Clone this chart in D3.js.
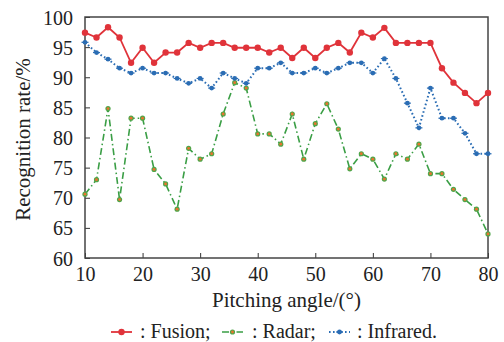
<!DOCTYPE html>
<html>
<head>
<meta charset="utf-8">
<script src="https://cdn.jsdelivr.net/npm/d3@7"></script>
<style>
  body { margin: 0; background: #fff; }
</style>
</head>
<body>
<div id="chart"></div>
<script>
// pitching angles, every 2 degrees
const angles = d3.range(10, 81, 2);
const fusion = [97.4, 96.6, 98.3, 96.6, 92.4, 94.9, 92.4, 94.1, 94.1, 95.7, 94.9, 95.7,
  95.7, 94.9, 94.9, 94.9, 94.1, 94.9, 93.2, 94.9, 93.2, 94.9, 95.7, 94.1,
  97.4, 96.6, 98.2, 95.7, 95.7, 95.7, 95.7, 91.5, 89.1, 87.4, 85.7, 87.4];
const radar = [70.6, 73.0, 84.8, 69.7, 83.2, 83.2, 74.7, 72.3, 68.1, 78.2, 76.4, 77.3,
  83.9, 89.1, 88.2, 80.6, 80.6, 78.9, 83.9, 76.4, 82.3, 85.6, 81.4, 74.8,
  77.3, 76.4, 73.1, 77.3, 76.4, 78.9, 74.0, 74.0, 71.4, 69.7, 68.1, 64.0];
const infrared = [95.8, 94.1, 93.0, 91.5, 90.7, 91.5, 90.7, 90.7, 89.8, 89.0, 89.8, 88.2,
  90.7, 89.8, 89.0, 91.5, 91.5, 92.4, 90.7, 90.7, 91.5, 90.7, 91.5, 92.4,
  92.4, 90.7, 93.1, 89.8, 85.7, 81.6, 88.2, 83.2, 83.2, 80.7, 77.3, 77.3];
const xTicks = [10, 20, 30, 40, 50, 60, 70, 80];
const yTicks = [60, 65, 70, 75, 80, 85, 90, 95, 100];

const width = 504, height = 342;
const margin = {top: 17, right: 16, bottom: 84, left: 85};
const FONT = '"Liberation Serif", "Times New Roman", serif';

const svg = d3.select('#chart').append('svg')
  .attr('width', width)
  .attr('height', height)
  .style('font-family', FONT);

const xScale = d3.scaleLinear().domain([10, 80]).range([margin.left, width - margin.right]);
const yScale = d3.scaleLinear().domain([60, 100]).range([height - margin.bottom, margin.top]);

// axes, ticks pointing inward
const xAxis = svg.append('g')
  .attr('transform', `translate(0,${yScale(60)})`)
  .call(d3.axisBottom(xScale).tickValues(xTicks).tickSizeInner(-5).tickSizeOuter(0).tickPadding(9));
const yAxis = svg.append('g')
  .attr('transform', `translate(${xScale(10)},0)`)
  .call(d3.axisLeft(yScale).tickValues(yTicks).tickSizeInner(-5).tickSizeOuter(0).tickPadding(12));

[xAxis, yAxis].forEach(ax => {
  ax.attr('font-family', FONT).attr('font-size', 20);
  ax.selectAll('.domain').remove();
  ax.selectAll('line').attr('stroke', '#333').attr('stroke-width', 1);
  ax.selectAll('text').attr('fill', '#222');
});
yAxis.selectAll('text').attr('dy', '0.35em');

// frame
svg.append('rect')
  .attr('x', xScale(10))
  .attr('y', yScale(100))
  .attr('width', xScale(80) - xScale(10))
  .attr('height', yScale(60) - yScale(100))
  .attr('fill', 'none')
  .attr('stroke', '#444')
  .attr('stroke-width', 1.5);

const series = [
  {name: 'Fusion', values: fusion, color: '#e0333a', dash: null, width: 1.8},
  {name: 'Radar', values: radar, color: '#3a9e45', dash: '7,3,1.5,3', width: 1.6},
  {name: 'Infrared', values: infrared, color: '#2b6db4', dash: '1.6,2.4', width: 2}
];

const line = d3.line()
  .x((d, i) => xScale(angles[i]))
  .y(d => yScale(d));

series.forEach(s => {
  svg.append('path')
    .datum(s.values)
    .attr('fill', 'none')
    .attr('stroke', s.color)
    .attr('stroke-width', s.width)
    .attr('stroke-dasharray', s.dash)
    .attr('d', line);
});

function drawMarkers(g, s, xs, ys) {
  if (s.name === 'Fusion') {
    g.append('circle').attr('cx', xs).attr('cy', ys).attr('r', 3.2).attr('fill', s.color);
  } else if (s.name === 'Radar') {
    g.append('circle').attr('cx', xs).attr('cy', ys).attr('r', 2.6).attr('fill', '#4fa64a');
    g.append('circle').attr('cx', xs).attr('cy', ys).attr('r', 1.4).attr('fill', '#e8742e');
  } else {
    g.append('circle').attr('cx', xs).attr('cy', ys).attr('r', 2.4).attr('fill', s.color);
    g.append('line').attr('x1', xs - 3.5).attr('x2', xs + 3.5).attr('y1', ys).attr('y2', ys)
      .attr('stroke', s.color).attr('stroke-width', 1.2);
  }
}

series.forEach(s => {
  const g = svg.append('g');
  s.values.forEach((v, i) => drawMarkers(g, s, xScale(angles[i]), yScale(v)));
});

// axis titles
svg.append('text')
  .attr('x', (xScale(10) + xScale(80)) / 2)
  .attr('y', 307)
  .attr('text-anchor', 'middle')
  .attr('fill', '#222')
  .style('font-size', '21px')
  .text('Pitching angle/(°)');

svg.append('text')
  .attr('transform', `translate(30,${(yScale(60) + yScale(100)) / 2 + 2}) rotate(-90)`)
  .attr('text-anchor', 'middle')
  .attr('fill', '#222')
  .style('font-size', '21px')
  .text('Recognition rate/%');

// legend
const legendY = 332;
const legendItems = [
  {s: series[0], x0: 111, label: ': Fusion;', tx: 140},
  {s: series[1], x0: 222, label: ': Radar;', tx: 252},
  {s: series[2], x0: 329, label: ': Infrared.', tx: 357}
];
legendItems.forEach(item => {
  const g = svg.append('g');
  g.append('line')
    .attr('x1', item.x0).attr('x2', item.x0 + 21)
    .attr('y1', legendY).attr('y2', legendY)
    .attr('stroke', item.s.color)
    .attr('stroke-width', item.s.width)
    .attr('stroke-dasharray', item.s.dash);
  drawMarkers(g, item.s, item.x0 + 10.5, legendY);
  g.append('text')
    .attr('x', item.tx)
    .attr('y', legendY + 6)
    .attr('fill', '#222')
    .style('font-size', '20px')
    .text(item.label);
});
</script>
</body>
</html>
